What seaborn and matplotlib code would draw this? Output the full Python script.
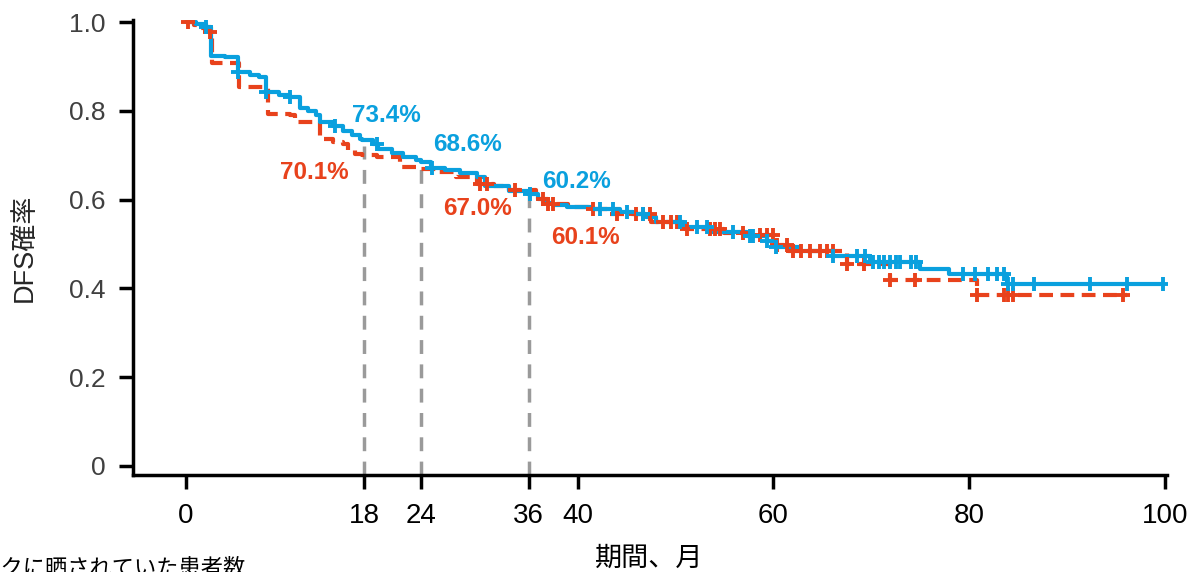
import numpy as np
import pandas as pd
import matplotlib
matplotlib.use("Agg")
import matplotlib.pyplot as plt
import seaborn as sns

# ============================================
# DATA
# ============================================
blue_t = [0, 1.0, 2.0, 2.6, 4.0, 5.3, 6.5, 7.5, 8.2, 9.5, 10.6, 11.6, 12.5, 13.3, 13.7,
          15.0, 16.0, 17.0, 17.8, 18.0, 19.1, 19.6, 21.0, 22.2, 23.5, 24.0, 25.0, 26.5,
          28.0, 29.7, 30.5, 33.0, 34.9, 36.0, 36.6, 37.5, 38.9, 41.5, 44.3, 45.7, 47.0,
          48.0, 50.8, 53.5, 57.3, 59.3, 60.3, 62.7, 66.1, 69.9, 75.0, 77.9, 83.8, 99.8]
blue_s = [1.0, 0.995, 0.989, 0.925, 0.921, 0.888, 0.882, 0.876, 0.843, 0.837, 0.831, 0.806,
          0.801, 0.790, 0.775, 0.765, 0.754, 0.745, 0.737, 0.734, 0.726, 0.714, 0.705, 0.696,
          0.690, 0.686, 0.672, 0.667, 0.660, 0.651, 0.632, 0.620, 0.612, 0.602, 0.592, 0.587,
          0.583, 0.578, 0.572, 0.568, 0.560, 0.549, 0.538, 0.527, 0.519, 0.508, 0.493, 0.485,
          0.474, 0.459, 0.444, 0.433, 0.409, 0.409]
blue_cens = [2.1, 5.3, 8.2, 10.6, 15.2, 19.5, 25.1, 35.1, 42.3, 43.6, 45.0, 46.7, 50.5, 52.2,
             53.2, 55.9, 57.6, 57.9, 59.3, 60.3, 66.1, 68.5, 69.4, 70.2, 70.8, 71.3, 71.9,
             72.5, 72.9, 74.0, 74.6, 79.4, 80.6, 81.9, 82.8, 83.5, 84.0, 84.5, 86.6, 92.3,
             96.1, 99.8]

red_t = [0, 0.8, 1.5, 2.3, 2.7, 5.4, 8.4, 10.6, 11.1, 13.7, 15.0, 16.0, 16.5, 17.3, 18.0,
         19.5, 21.9, 24.0, 25.5, 27.6, 29.7, 31.5, 33.0, 35.8, 36.0, 37.0, 39.0, 41.5, 43.0,
         47.5, 51.0, 54.9, 58.0, 60.2, 61.5, 67.5, 71.9, 80.8, 96.1]
red_s = [1.0, 0.993, 0.986, 0.977, 0.907, 0.854, 0.794, 0.790, 0.775, 0.737, 0.730, 0.726,
         0.711, 0.704, 0.701, 0.696, 0.673, 0.670, 0.662, 0.651, 0.636, 0.630, 0.621, 0.602,
         0.601, 0.590, 0.583, 0.579, 0.568, 0.549, 0.534, 0.524, 0.520, 0.497, 0.485, 0.455,
         0.418, 0.386, 0.386]
red_cens = [0.2, 2.45, 30.0, 30.7, 33.6, 36.5, 37.0, 37.5, 41.6, 44.0, 46.0, 46.7, 47.4, 48.7,
            49.5, 50.2, 51.2, 53.5, 54.0, 54.5, 56.9, 58.6, 59.3, 60.0, 60.4, 61.4, 62.0,
            62.8, 63.7, 64.8, 65.5, 66.1, 67.5, 69.2, 71.9, 74.5, 80.8, 83.5, 84.0, 84.5, 95.7]

# the "36" mark sits a little left of 36 in the original figure
mark_pos = [18.2, 24.0, 35.0]
mark_tops = [0.72, 0.68, 0.62]

blue_labels = ["73.4%", "68.6%", "60.2%"]
blue_label_pos = [(20.5, 0.790), (28.8, 0.725), (39.9, 0.641)]
red_labels = ["70.1%", "67.0%", "60.1%"]
red_label_pos = [(13.1, 0.661), (29.8, 0.580), (40.8, 0.515)]

x_ticks = [0, 18.2, 24, 35.0, 40, 60, 80, 100]
x_ticklabels = ["0", "18", "24", "36", "40", "60", "80", "100"]
y_ticks = [0, 0.2, 0.4, 0.6, 0.8, 1.0]
y_ticklabels = ["0", "0.2", "0.4", "0.6", "0.8", "1.0"]

BLUE = "#0AA0DE"
RED = "#E8421C"
GREY = "#9A9A9A"

# ============================================
# STYLE
# ============================================
sns.set_style("ticks")
plt.rcParams['font.family'] = ['Liberation Sans', 'Noto Sans CJK JP', 'DejaVu Sans']


def surv_at(times, surv, t):
    idx = np.searchsorted(np.array(times), np.array(t), side='right') - 1
    return np.array(surv)[idx]


fig = plt.figure(figsize=(11.88, 5.72), dpi=100)
ax = fig.add_axes([0.112, 0.170, 0.8704, 0.795])

# dashed reference lines
for m, top in zip(mark_pos, mark_tops):
    ax.plot([m, m], [-0.02, top], color=GREY, linewidth=2.5,
            linestyle=(0, (4, 3)), zorder=1)

blue_df = pd.DataFrame({"t": blue_t, "s": blue_s})
red_df = pd.DataFrame({"t": red_t, "s": red_s})

sns.lineplot(data=red_df, x="t", y="s", drawstyle="steps-post", color=RED,
             linewidth=3.0, linestyle=(0, (3.3, 1.8)), estimator=None, ax=ax, zorder=2)
sns.lineplot(data=blue_df, x="t", y="s", drawstyle="steps-post", color=BLUE,
             linewidth=3.0, estimator=None, ax=ax, zorder=3)

sns.scatterplot(x=red_cens, y=surv_at(red_t, red_s, red_cens), marker="+", s=100,
                color=RED, linewidth=2.8, ax=ax, zorder=4)
sns.scatterplot(x=blue_cens, y=surv_at(blue_t, blue_s, blue_cens), marker="+", s=100,
                color=BLUE, linewidth=2.8, ax=ax, zorder=5)

for lab, (x, y) in zip(blue_labels, blue_label_pos):
    ax.text(x, y, lab, color=BLUE, fontsize=17.5, fontweight="bold", ha="center", va="center")
for lab, (x, y) in zip(red_labels, red_label_pos):
    ax.text(x, y, lab, color=RED, fontsize=17.5, fontweight="bold", ha="center", va="center")

# ============================================
# AXES
# ============================================
ax.set_xlim(-5.4, 100.2)
ax.set_ylim(-0.02, 1.005)
ax.set_xticks(x_ticks)
ax.set_xticklabels(x_ticklabels, fontsize=20, color="black")
ax.set_yticks(y_ticks)
ax.set_yticklabels(y_ticklabels, fontsize=19, color="#404040")
ax.tick_params(axis="x", length=10, width=2.5, pad=10, color="black")
ax.tick_params(axis="y", length=10, width=2.5, pad=10, color="black")
sns.despine(ax=ax)
for sp in ["left", "bottom"]:
    ax.spines[sp].set_linewidth(2.5)
    ax.spines[sp].set_color("black")

ax.set_xlabel("")
ax.set_ylabel("DFS確率", fontsize=19.5, family=['Liberation Sans', 'Noto Sans CJK JP'],
              labelpad=22)
fig.text(649 / 1188, 1 - 545 / 572, "期間、月", fontsize=19.5, ha="center", va="top",
         family=['Noto Sans CJK JP'], color="black")
fig.text(245 / 1188, 1 - 557 / 572, "リスクに晒されていた患者数", fontsize=16, ha="right",
         va="top", family=['Noto Sans CJK JP'], color="black")

fig.savefig("out.png", dpi=100)
